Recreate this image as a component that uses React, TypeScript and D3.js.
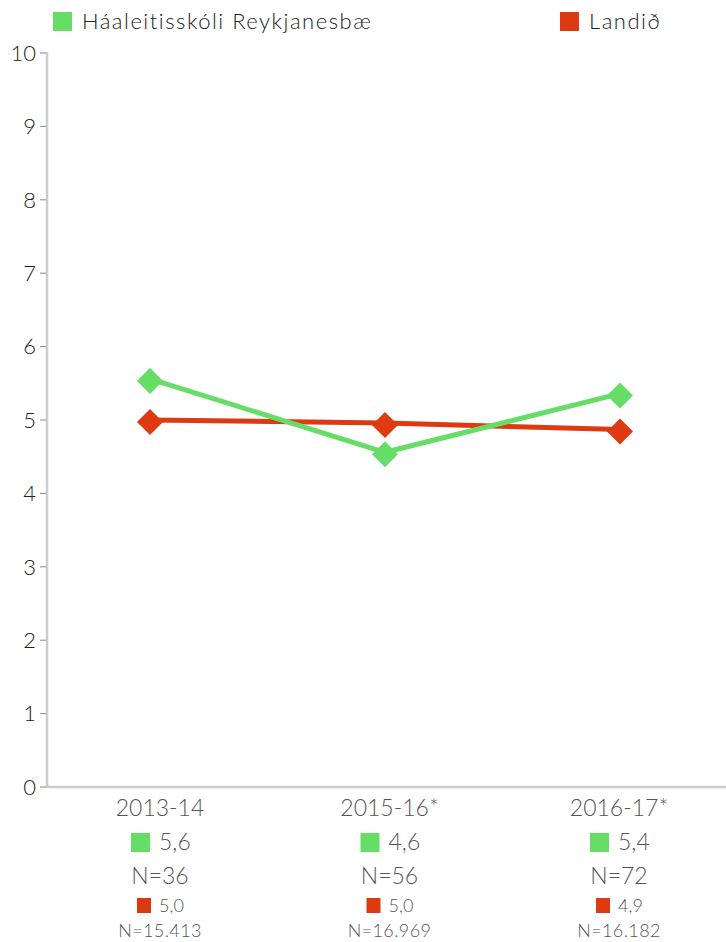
import { useEffect, useRef } from "react";
import * as d3 from "d3";

const years = ["2013-14", "2015-16*", "2016-17*"];
const schoolName = "Háaleitisskóli Reykjanesbæ";
const countryName = "Landið";
const schoolValues = [5.56, 4.56, 5.36];
const countryValues = [5.0, 4.96, 4.87];
const schoolN = ["36", "56", "72"];
const countryN = ["15.413", "16.969", "16.182"];
const yTicks = [0, 1, 2, 3, 4, 5, 6, 7, 8, 9, 10];

const GREEN = "#66dd66";
const RED = "#dd3a12";
const TEXT = "#555";
const FONT = "Lato, 'Open Sans', sans-serif";

const fmt = (v: number) => v.toFixed(1).replace(".", ",");

export default function App() {
  const ref = useRef<SVGSVGElement>(null);

  useEffect(() => {
    const width = 726;
    const height = 942;
    const margin = { top: 53, right: 0, bottom: 155, left: 47 };

    const svg = d3.select(ref.current);
    svg.selectAll("*").remove();

    // markers and labels sit on slightly different grids in the original
    const xMark = d3.scalePoint<string>().domain(years).range([150, 620]);
    const xLabel = d3.scalePoint<string>().domain(years).range([160, 619]);

    const y = d3.scaleLinear()
      .domain([0, 10])
      .range([height - margin.bottom, margin.top]);

    // axes
    const axisG = svg.append("g").attr("font-family", FONT).attr("font-weight", 300);
    axisG.append("line")
      .attr("x1", margin.left).attr("x2", margin.left)
      .attr("y1", y(10) - 1).attr("y2", y(0) + 1)
      .attr("stroke", "#ccc").attr("stroke-width", 2.5);
    axisG.append("line")
      .attr("x1", margin.left).attr("x2", width)
      .attr("y1", y(0)).attr("y2", y(0))
      .attr("stroke", "#ccc").attr("stroke-width", 2.5);

    const ticks = axisG.selectAll(".tick").data(yTicks).enter().append("g")
      .attr("transform", d => `translate(0,${y(d)})`);
    ticks.append("line")
      .attr("x1", margin.left - 7).attr("x2", margin.left - 1)
      .attr("stroke", "#888").attr("stroke-width", 1);
    ticks.append("text")
      .attr("x", margin.left - 11)
      .attr("dy", "0.35em")
      .attr("text-anchor", "end")
      .attr("font-size", 22)
      .attr("fill", "#222")
      .text(d => d);

    // lines + markers
    const series = [
      { values: schoolValues, color: GREEN },
      { values: countryValues, color: RED },
    ];
    const line = d3.line<number>()
      .x((_, i) => xMark(years[i]) as number)
      .y(d => y(d));
    const diamond = d3.symbol().type(d3.symbolSquare).size(340);

    [...series].reverse().forEach(s => {
      svg.append("path")
        .attr("d", line(s.values))
        .attr("fill", "none")
        .attr("stroke", s.color)
        .attr("stroke-width", 5);
    });
    [...series].reverse().forEach(s => {
      svg.selectAll(null).data(s.values).enter().append("path")
        .attr("d", diamond)
        .attr("transform", (d, i) => `translate(${xMark(years[i])},${y(d) + 2}) rotate(45)`)
        .attr("fill", s.color);
    });

    // legend
    const legend = svg.append("g").attr("font-family", FONT).attr("font-size", 22)
      .attr("font-weight", 300).attr("fill", "#222").attr("letter-spacing", 1.5);
    legend.append("rect").attr("x", 53).attr("y", 12).attr("width", 19).attr("height", 19).attr("fill", GREEN);
    legend.append("text").attr("x", 82).attr("y", 29).text(schoolName);
    legend.append("rect").attr("x", 560).attr("y", 12).attr("width", 19).attr("height", 19).attr("fill", RED);
    legend.append("text").attr("x", 589).attr("y", 29).text(countryName);

    // bottom labels
    const cols = svg.append("g").attr("font-family", FONT).attr("font-weight", 300).attr("fill", TEXT)
      .selectAll("g").data(years).enter().append("g")
      .attr("transform", d => `translate(${xLabel(d)},0)`);

    cols.append("text")
      .attr("y", 816).attr("text-anchor", "middle").attr("font-size", 23)
      .text(d => d);

    cols.append("rect")
      .attr("x", -29).attr("y", 833).attr("width", 19).attr("height", 19).attr("fill", GREEN);
    cols.append("text")
      .attr("x", -1).attr("y", 850).attr("font-size", 23)
      .text((_, i) => fmt(schoolValues[i]));

    cols.append("text")
      .attr("y", 884).attr("text-anchor", "middle").attr("font-size", 23)
      .text((_, i) => `N=${schoolN[i]}`);

    cols.append("rect")
      .attr("x", -23).attr("y", 898).attr("width", 14).attr("height", 15).attr("fill", RED);
    cols.append("text")
      .attr("x", -1).attr("y", 912).attr("font-size", 18)
      .text((_, i) => fmt(countryValues[i]));

    cols.append("text")
      .attr("y", 937).attr("text-anchor", "middle").attr("font-size", 18)
      .attr("letter-spacing", 0.4)
      .text((_, i) => `N=${countryN[i]}`);
  }, []);

  return (
    <svg
      ref={ref}
      width={726}
      height={942}
      style={{ position: "absolute", left: 0, top: 0, background: "#fff" }}
    />
  );
}
